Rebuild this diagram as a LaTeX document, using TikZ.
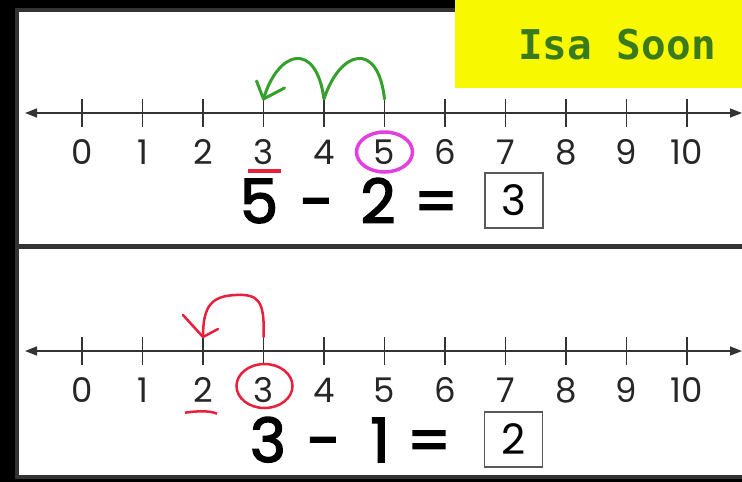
\documentclass[tikz,border=0pt]{standalone}
\usepackage{fontspec}
\setmainfont{Poppins}
\newfontfamily\namefont{DejaVu Sans Mono}
\newfontfamily\eqfont[FakeBold=2.5]{Poppins}
\usetikzlibrary{arrows.meta}
\definecolor{axisgray}{HTML}{333333}
\definecolor{hopgreen}{HTML}{35A02C}
\definecolor{namegreen}{HTML}{3A7A1C}
\definecolor{penred}{HTML}{E8203C}
\definecolor{penpink}{HTML}{E33FE0}
\definecolor{sunyellow}{HTML}{F8F800}
\tikzset{
  numlbl/.style={font=\fontsize{34}{34}\selectfont, text=black!85, inner sep=0pt},
  eqsym/.style={font=\eqfont\fontsize{61}{61}\selectfont, anchor=base, inner sep=0pt},
  ansbox/.style={draw=gray!70!black, line width=1.2pt, minimum width=58pt, minimum height=55pt, inner sep=0pt, font=\fontsize{42}{42}\selectfont},
  pen/.style={line width=3pt, line cap=round, line join=round}
}
\begin{document}
\begin{tikzpicture}[x=1pt,y=-1pt,>={Triangle[length=12pt,width=9pt]}]
				\useasboundingbox (0,0) rectangle (742,482);
				\fill[black] (0,0) rectangle (742,482);
				\draw[axisgray, line width=4pt, fill=white] (17,10) rectangle (760,477);
				\draw[axisgray, line width=5pt] (17,246) -- (742,246);
				\fill[sunyellow] (455,0) rectangle (742,88);
				\node[font=\namefont\bfseries\fontsize{41}{41}\selectfont, text=namegreen] (name) at (617,45) {Isa Soon};
				% two number lines
				\foreach \y/\n in {113/a,351/b}{
					\draw[axisgray, line width=1.6pt, <->] (25,\y) -- (742,\y);
					\foreach \i in {0,...,10}{
						\draw[axisgray, line width=1.3pt] (82+60.5*\i,\y-14) coordinate (t\n\i) -- (82+60.5*\i,\y+14);
						\node[numlbl] (l\n\i) at (82+60.5*\i,\y+39) {\i};
					}
				}
				% 5 - 2 = 3
				\draw[hopgreen, pen] (ta5) .. controls (378,40) and (340,50) .. (ta4) .. controls (316,40) and (278,50) .. (ta3);
				\draw[hopgreen, pen] (ta3) -- ++(-7,-18) (ta3) -- ++(21,-11);
				\draw[penpink, line width=3.5pt] (la5) ellipse (28 and 20);
				\draw[penred, line width=4pt] ([shift={(-16,6)}]la3.south) -- ([shift={(17,6)}]la3.south);
				\node[eqsym] (ea1) at (259,223) {5};
				\node[eqsym] (ea2) at (317,223) {-};
				\node[eqsym] (ea3) at (378,223) {2};
				\node[eqsym] (ea4) at (436,223) {=};
				\node[ansbox] (ansa) at (514,200.5) {3};
				% 3 - 1 = 2
				\draw[penred, pen, line width=2.5pt] (tb3) .. controls (265,300) and (258,294) .. (236,295) .. controls (212,296) and (203,305) .. (tb2);
				\draw[penred, pen, line width=2.5pt] (tb2) -- ++(-20,-22) (tb2) -- ++(15,-8);
				\draw[penred, line width=2.5pt] ([shift={(1,-4)}]lb3.center) ellipse (28 and 22);
				\draw[penred, line width=2.5pt] ([shift={(-18,10)}]lb2.south) .. controls ([shift={(-5,8)}]lb2.south) and ([shift={(8,8)}]lb2.south) .. ([shift={(14,11)}]lb2.south);
				\node[eqsym] (eb1) at (268,462) {3};
				\node[eqsym] (eb2) at (324,462) {-};
				\node[eqsym] (eb3) at (380,462) {1};
				\node[eqsym] (eb4) at (429,462) {=};
				\node[ansbox] (ansb) at (513.5,439.5) {2};
			\end{tikzpicture}
\end{document}
